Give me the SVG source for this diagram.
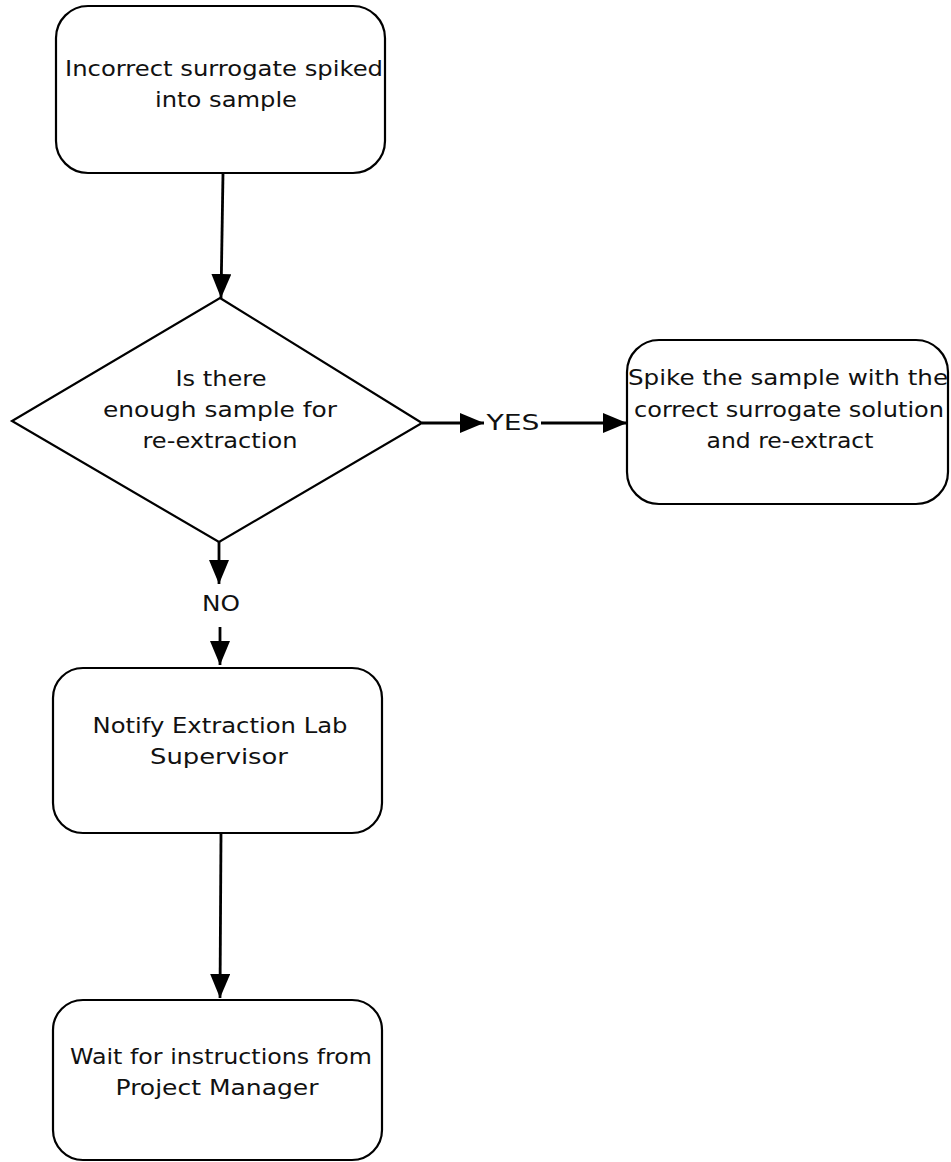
<svg xmlns="http://www.w3.org/2000/svg" width="951" height="1162" viewBox="0 0 951 1162">
<defs>
<marker id="ah" markerUnits="userSpaceOnUse" viewBox="0 0 24 20" refX="24" refY="10" markerWidth="24" markerHeight="20" orient="auto"><path d="M0,0 L24,10 L0,20 z" fill="#000"/></marker>
</defs>
<style>
.box{fill:#fff;stroke:#000;stroke-width:2.2}
.t{font-family:"DejaVu Sans","Liberation Sans",sans-serif;font-size:21px;fill:#111;text-anchor:middle}
.c{stroke:#000;stroke-width:2.8;fill:none}
</style>
<rect width="951" height="1162" fill="#fff"/>
<g id="connectors">
<line class="c" x1="223" y1="173" x2="221" y2="298" marker-end="url(#ah)"/>
<line class="c" x1="422" y1="423" x2="484" y2="423" marker-end="url(#ah)"/>
<line class="c" x1="541" y1="423" x2="627" y2="423" marker-end="url(#ah)"/>
<line class="c" x1="219" y1="542" x2="219" y2="584" marker-end="url(#ah)"/>
<line class="c" x1="220" y1="627" x2="220" y2="665" marker-end="url(#ah)"/>
<line class="c" x1="221" y1="833" x2="220" y2="998" marker-end="url(#ah)"/>
<text class="t" x="513" y="430" textLength="53" lengthAdjust="spacingAndGlyphs">YES</text>
<text class="t" x="221" y="611" textLength="38" lengthAdjust="spacingAndGlyphs">NO</text>
</g>
<g id="n1">
<rect class="box" x="56" y="6" width="329" height="167" rx="32"/>
<text class="t" x="224" y="76" textLength="318" lengthAdjust="spacingAndGlyphs">Incorrect surrogate spiked</text>
<text class="t" x="226" y="107" textLength="142" lengthAdjust="spacingAndGlyphs">into sample</text>
</g>
<g id="n2">
<polygon class="box" points="220,298 422,423 219,542 12,421"/>
<text class="t" x="221" y="386" textLength="91" lengthAdjust="spacingAndGlyphs">Is there</text>
<text class="t" x="220" y="417" textLength="234" lengthAdjust="spacingAndGlyphs">enough sample for</text>
<text class="t" x="220" y="448" textLength="155" lengthAdjust="spacingAndGlyphs">re-extraction</text>
</g>
<g id="n3">
<rect class="box" x="627" y="340" width="321" height="164" rx="32"/>
<text class="t" x="788" y="385" textLength="320" lengthAdjust="spacingAndGlyphs">Spike the sample with the</text>
<text class="t" x="789" y="417" textLength="310" lengthAdjust="spacingAndGlyphs">correct surrogate solution</text>
<text class="t" x="790" y="448" textLength="167" lengthAdjust="spacingAndGlyphs">and re-extract</text>
</g>
<g id="n4">
<rect class="box" x="53" y="668" width="329" height="165" rx="30"/>
<text class="t" x="220" y="733" textLength="255" lengthAdjust="spacingAndGlyphs">Notify Extraction Lab</text>
<text class="t" x="219" y="764" textLength="138" lengthAdjust="spacingAndGlyphs">Supervisor</text>
</g>
<g id="n5">
<rect class="box" x="53" y="1000" width="329" height="160" rx="30"/>
<text class="t" x="221" y="1064" textLength="302" lengthAdjust="spacingAndGlyphs">Wait for instructions from</text>
<text class="t" x="217" y="1095" textLength="203" lengthAdjust="spacingAndGlyphs">Project Manager</text>
</g>
</svg>
